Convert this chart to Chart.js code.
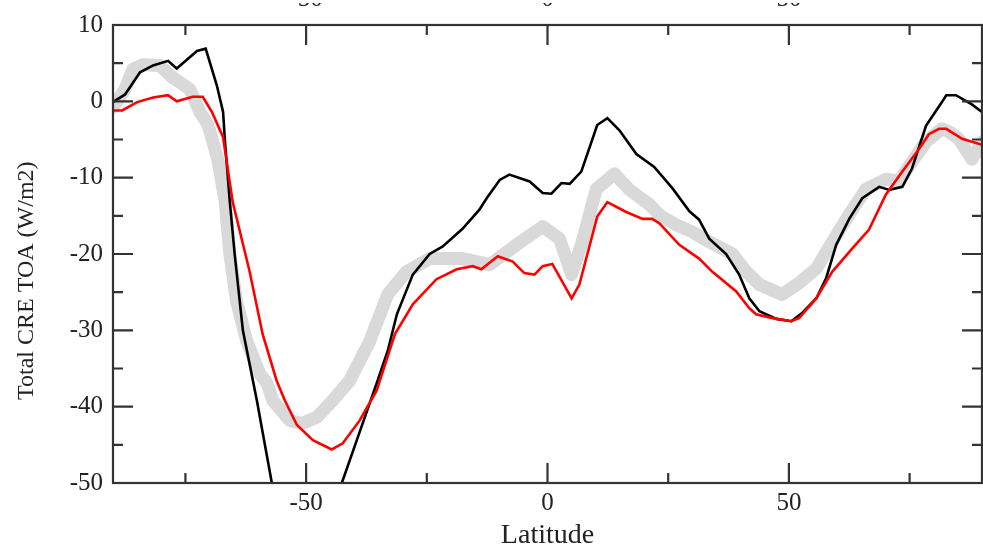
<!DOCTYPE html>
<html>
<head>
<meta charset="utf-8">
<script src="https://cdn.jsdelivr.net/npm/chart.js@4.4.0/dist/chart.umd.min.js"></script>
<style>
html, body { margin: 0; padding: 0; background: #fff; }
#wrap { width: 983px; height: 552px; }
</style>
</head>
<body>
<div id="wrap"><canvas id="creChart" width="983" height="552"></canvas></div>
<script>
// observations (thick grey band)
const obsLat = [-90, -87.5, -85.9, -83.8, -80.3, -77.6, -74.1, -72, -70.3, -68.3, -66.8, -65.8, -64.4, -62.3, -59.6, -58.1, -56.9, -53.4, -50.9, -47.8, -44.5, -41, -36.8, -33.1, -29.2, -24.4, -17.6, -12, -6.4, -1, 2.5, 5, 7.2, 10.1, 13.9, 17, 21.1, 23.2, 26.7, 30, 33.5, 38.3, 41.1, 43.9, 48.6, 52.1, 55.7, 59, 62.5, 66, 70.1, 72.8, 75.5, 78.4, 81.7, 83.2, 85.2, 87.9, 90];
const obsVal = [-0.8, 1.6, 4.2, 4.8, 4.7, 3.1, 1.6, -1.4, -3.1, -7.6, -13, -20, -26.2, -31.4, -35.7, -36.9, -39.2, -41.8, -42.2, -41.4, -39.2, -36.6, -31.4, -25.3, -22.3, -20.6, -20.6, -21.4, -18.8, -16.4, -18, -22.7, -18.4, -11.5, -9.5, -11.6, -13.5, -14.9, -16.2, -17.1, -18.4, -20, -22.3, -24, -25.3, -23.8, -21.9, -18.4, -14.8, -11.5, -10.2, -10.5, -7.9, -5.3, -3.6, -4, -4.9, -7.6, -5.3];

// black model
const blackLat = [-90, -87.5, -84.4, -81.7, -78.6, -76.8, -72.6, -70.8, -68.5, -67.2, -66.8, -65.8, -64.8, -63.1, -60.2, -57.1, -53, -50, -47, -42.6, -38.9, -35.2, -33.1, -31.2, -27.9, -24.4, -21.7, -17.6, -14.1, -12.6, -9.9, -7.9, -3.7, -1, 0.8, 2.9, 4.6, 7, 10.3, 12.4, 14.9, 18.4, 22.1, 25.9, 29.4, 31.4, 33.5, 37, 39.7, 41.8, 43.9, 47.4, 50.5, 52.8, 55.7, 57.7, 59.8, 62.5, 65.2, 68.7, 70.8, 73.5, 75.5, 78.4, 81.7, 82.6, 84.6, 87.9, 90];
const blackVal = [-0.1, 0.9, 3.8, 4.7, 5.3, 4.3, 6.6, 6.9, 2.1, -1.4, -5.3, -13.2, -20, -30, -39.2, -50, -58, -60, -57, -50, -43.3, -36.6, -32.7, -27.9, -22.7, -20, -19, -16.7, -14.2, -12.7, -10.3, -9.6, -10.5, -12, -12.1, -10.7, -10.8, -9.2, -3.1, -2.2, -3.8, -6.9, -8.6, -11.4, -14.4, -15.5, -18, -20, -22.7, -25.8, -27.5, -28.5, -28.8, -27.7, -25.8, -23.2, -18.8, -15.4, -12.7, -11.2, -11.6, -11.2, -8.8, -3.2, -0.1, 0.8, 0.8, -0.4, -1.4];

// red model
const redLat = [-90, -88.1, -85, -81.7, -78.6, -76.8, -73.5, -71.4, -69.5, -67.2, -65.2, -61.7, -59, -56.1, -54.4, -51.9, -48.6, -44.7, -42.4, -38.9, -35.4, -31.6, -27.9, -23, -18.8, -15.5, -13.7, -10.3, -7.2, -4.8, -2.7, -1, 1, 5, 6.6, 10.3, 12.4, 16.3, 19.7, 21.7, 23.2, 27.3, 31.4, 34.1, 39.1, 41.8, 43.2, 46.6, 50.5, 52.1, 55.7, 59, 63.1, 66.6, 70.1, 73.5, 77, 79, 81.1, 82.6, 85.9, 90];
const redVal = [-1.2, -1.2, -0.1, 0.5, 0.8, 0, 0.6, 0.6, -1.4, -4.7, -13.2, -22.3, -30.5, -36.6, -39.2, -42.4, -44.4, -45.6, -44.8, -41.8, -37.9, -30.5, -26.6, -23.3, -22, -21.6, -22, -20.3, -21, -22.5, -22.7, -21.6, -21.3, -25.8, -24, -15.1, -13.2, -14.5, -15.4, -15.4, -16, -18.8, -20.6, -22.3, -24.9, -27.1, -27.9, -28.4, -28.8, -28.4, -25.8, -22.3, -19.3, -16.8, -12.2, -9.2, -6.2, -4.3, -3.6, -3.6, -4.9, -5.7];

// axis ticks
const xMajor = [-50, 0, 50];
const xMinor = [-75, -25, 25, 75];
const yMajor = [-50, -40, -30, -20, -10, 0, 10];
const yMinor = [-45, -35, -25, -15, -5, 5];
const yTitle = 'Total CRE TOA (W/m2)';

const toPoints = (lat, val) => lat.map((v, i) => ({ x: v, y: val[i] }));

// inward tick marks, box frame and the (off-centre) y title, as in the xmgrace plot
const frameTicks = {
    id: 'frameTicks',
    afterDatasetsDraw(chart) {
        const { ctx, chartArea: a, scales: { x, y } } = chart;
        ctx.save();
        ctx.strokeStyle = '#333';
        ctx.lineWidth = 2.2;
        ctx.beginPath();
        const xt = (list, len) => list.forEach(v => {
            const px = x.getPixelForValue(v);
            ctx.moveTo(px, a.bottom); ctx.lineTo(px, a.bottom - len);
            ctx.moveTo(px, a.top); ctx.lineTo(px, a.top + len);
        });
        const yt = (list, len) => list.forEach(v => {
            const py = y.getPixelForValue(v);
            ctx.moveTo(a.left, py); ctx.lineTo(a.left + len, py);
            ctx.moveTo(a.right, py); ctx.lineTo(a.right - len, py);
        });
        xt(xMajor, 20); xt(xMinor, 10);
        yt(yMajor, 20); yt(yMinor, 10);
        ctx.stroke();
        ctx.strokeRect(a.left, a.top, a.right - a.left, a.bottom - a.top);

        ctx.translate(27, y.getPixelForValue(-23.5));
        ctx.rotate(-Math.PI / 2);
        ctx.fillStyle = '#222';
        ctx.font = '24px "Liberation Serif"';
        ctx.textAlign = 'center';
        ctx.textBaseline = 'middle';
        ctx.fillText(yTitle, 0, 0);
        ctx.restore();
    }
};

const tickFont = { family: 'Liberation Serif', size: 25 };

new Chart(document.getElementById('creChart'), {
    type: 'line',
    data: {
        datasets: [{
            label: 'Model (red)',
            data: toPoints(redLat, redVal),
            borderColor: '#ff0000',
            borderWidth: 2.6,
            order: 0
        }, {
            label: 'Model (black)',
            data: toPoints(blackLat, blackVal),
            borderColor: '#000000',
            borderWidth: 2.6,
            order: 1
        }, {
            label: 'Observations',
            data: toPoints(obsLat, obsVal),
            borderColor: '#d9d9d9',
            borderWidth: 13,
            borderJoinStyle: 'round',
            borderCapStyle: 'round',
            order: 2
        }]
    },
    options: {
        responsive: false,
        animation: false,
        events: [],
        clip: 0,
        elements: { point: { radius: 0 }, line: { tension: 0, fill: false } },
        layout: { padding: { left: 0, right: 1, top: 0, bottom: 0 } },
        plugins: { legend: { display: false }, tooltip: { enabled: false } },
        scales: {
            x: {
                type: 'linear', position: 'bottom', min: -90, max: 90,
                grid: { display: false, drawTicks: false },
                border: { display: false },
                afterBuildTicks: s => { s.ticks = xMajor.map(v => ({ value: v })); },
                afterFit: s => { s.height = 69; },
                ticks: { font: tickFont, color: '#222', padding: 5, maxRotation: 0 },
                title: { display: true, text: 'Latitude', color: '#222', font: { family: 'Liberation Serif', size: 28 }, padding: { top: 0, bottom: 0 } }
            },
            x2: {
                type: 'linear', position: 'top', min: -90, max: 90, display: true,
                grid: { display: false, drawTicks: false },
                border: { display: false },
                afterBuildTicks: s => { s.ticks = xMajor.map(v => ({ value: v })); },
                afterFit: s => { s.height = 22; },
                ticks: { font: tickFont, color: '#222', padding: 11, maxRotation: 0 }
            },
            y: {
                min: -50, max: 10,
                grid: { display: false, drawTicks: false },
                border: { display: false },
                afterBuildTicks: s => { s.ticks = yMajor.map(v => ({ value: v })); },
                afterFit: s => { s.width = 113; },
                ticks: { font: tickFont, color: '#222', padding: 10 }
            }
        }
    },
    plugins: [frameTicks]
});
</script>
</body>
</html>
